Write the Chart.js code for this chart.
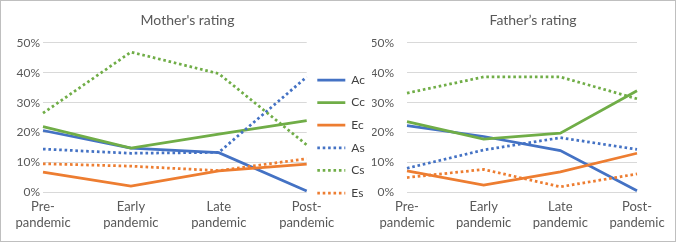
<!DOCTYPE html>
<html>
<head>
<meta charset="utf-8">
<script src="https://cdn.jsdelivr.net/npm/chart.js@4"></script>
<style>
  html, body { margin: 0; padding: 0; background: #fff; overflow: hidden; }
  #wrap { position: relative; width: 676px; height: 242px; overflow: hidden; }
  #frame { position: absolute; left: 0; top: 0; width: 676px; height: 242px; box-sizing: border-box; border: 1px solid #bfbfbf; pointer-events: none; }
  #left { position: absolute; left: 0; top: 0; }
  #right { position: absolute; left: 372px; top: 0; }
</style>
</head>
<body>
<div id="wrap">
  <canvas id="left" width="375" height="242"></canvas>
  <canvas id="right" width="322" height="242"></canvas>
  <div id="frame"></div>
</div>
<script>
const categories = [['Pre-', 'pandemic'], ['Early', 'pandemic'], ['Late', 'pandemic'], ['Post-', 'pandemic']];
const seriesNames = ['Ac', 'Cc', 'Ec', 'As', 'Cs', 'Es'];
const yTicks = [0, 10, 20, 30, 40, 50];

// mother's rating, %
const motherAc = [20.7, 14.8, 13.3, 0.5];
const motherCc = [22.0, 14.8, 19.5, 24.0];
const motherEc = [6.8, 2.1, 7.2, 9.5];
const motherAs = [14.5, 13.1, 13.4, 38.6];
const motherCs = [26.5, 46.9, 39.7, 15.9];
const motherEs = [9.6, 8.8, 7.3, 11.3];

// father's rating, %
const fatherAc = [22.3, 18.7, 14.0, 0.6];
const fatherCc = [23.7, 17.8, 19.8, 34.0];
const fatherEc = [7.2, 2.5, 6.9, 13.1];
const fatherAs = [8.1, 14.2, 18.3, 14.4];
const fatherCs = [33.2, 38.6, 38.6, 31.3];
const fatherEs = [5.0, 7.7, 1.9, 6.2];

const BLUE = '#4472c4', GREEN = '#70ad47', ORANGE = '#ed7d31';
const colors = [BLUE, GREEN, ORANGE, BLUE, GREEN, ORANGE];
const dotted = [false, false, false, true, true, true];
const TEXT = '#595959';
const FONT = 'Lato, "Open Sans", sans-serif';
const LINE_W = 2.75;

function makeDatasets(values) {
  return values.map((v, i) => ({
    label: seriesNames[i],
    data: v,
    borderColor: colors[i],
    backgroundColor: colors[i],
    borderWidth: LINE_W,
    borderDash: dotted[i] ? [2.6, 2.8] : [],
    borderCapStyle: 'butt',
    pointRadius: 0,
    tension: 0,
    fill: false
  })).reverse();
}

function legendItems(chart) {
  return Chart.defaults.plugins.legend.labels.generateLabels(chart).map(item => {
    const ds = chart.data.datasets[item.datasetIndex];
    return { ...item, lineDash: ds.borderDash, lineWidth: LINE_W, strokeStyle: ds.borderColor };
  });
}

function makeOptions(title, yWidth, yPad, showLegend, extraRight) {
  const scales = {
    x: {
      offset: false,
      grid: { display: false, drawTicks: false },
      border: { display: false },
      ticks: { color: TEXT, font: { family: FONT, size: 13, lineHeight: 1.25 }, padding: 6, maxRotation: 0, autoSkip: false }
    },
    y: {
      min: 0,
      max: 50,
      afterBuildTicks: s => { s.ticks = yTicks.map(v => ({ value: v })); },
      afterFit: s => { s.width = yWidth; },
      grid: { color: '#d9d9d9', lineWidth: 1, drawTicks: false },
      border: { display: false },
      ticks: { color: TEXT, font: { family: FONT, size: 12 }, padding: yPad, callback: v => v + '%' }
    }
  };
  if (extraRight) {
    scales.y2 = {
      position: 'right',
      display: true,
      afterFit: s => { s.width = extraRight; },
      grid: { display: false, drawTicks: false },
      border: { display: false },
      ticks: { display: false }
    };
  }
  return {
    responsive: false,
    devicePixelRatio: 1,
    animation: false,
    layout: { padding: { bottom: 5 } },
    plugins: {
      title: {
        display: true,
        text: title,
        color: TEXT,
        font: { family: FONT, size: 14, weight: 'normal' },
        padding: { top: 12, bottom: 14 }
      },
      legend: {
        display: showLegend,
        position: 'right',
        reverse: true,
        title: { display: true, text: ' ', font: { size: 10, lineHeight: 1.2 }, padding: { top: 12, bottom: 12 } },
        labels: {
          usePointStyle: true,
          pointStyle: 'line',
          pointStyleWidth: 28,
          color: '#404040',
          font: { family: FONT, size: 12 },
          padding: 10.6,
          generateLabels: legendItems
        }
      },
      tooltip: { enabled: false }
    },
    scales
  };
}

new Chart(document.getElementById('left'), {
  type: 'line',
  data: {
    labels: categories,
    datasets: makeDatasets([motherAc, motherCc, motherEc, motherAs, motherCs, motherEs])
  },
  options: makeOptions("Mother's rating", 43, 3, true, 0)
});

new Chart(document.getElementById('right'), {
  type: 'line',
  data: {
    labels: categories,
    datasets: makeDatasets([fatherAc, fatherCc, fatherEc, fatherAs, fatherCs, fatherEs])
  },
  options: makeOptions('Father\u2019s rating', 35, 13, false, 57)
});
</script>
</body>
</html>
